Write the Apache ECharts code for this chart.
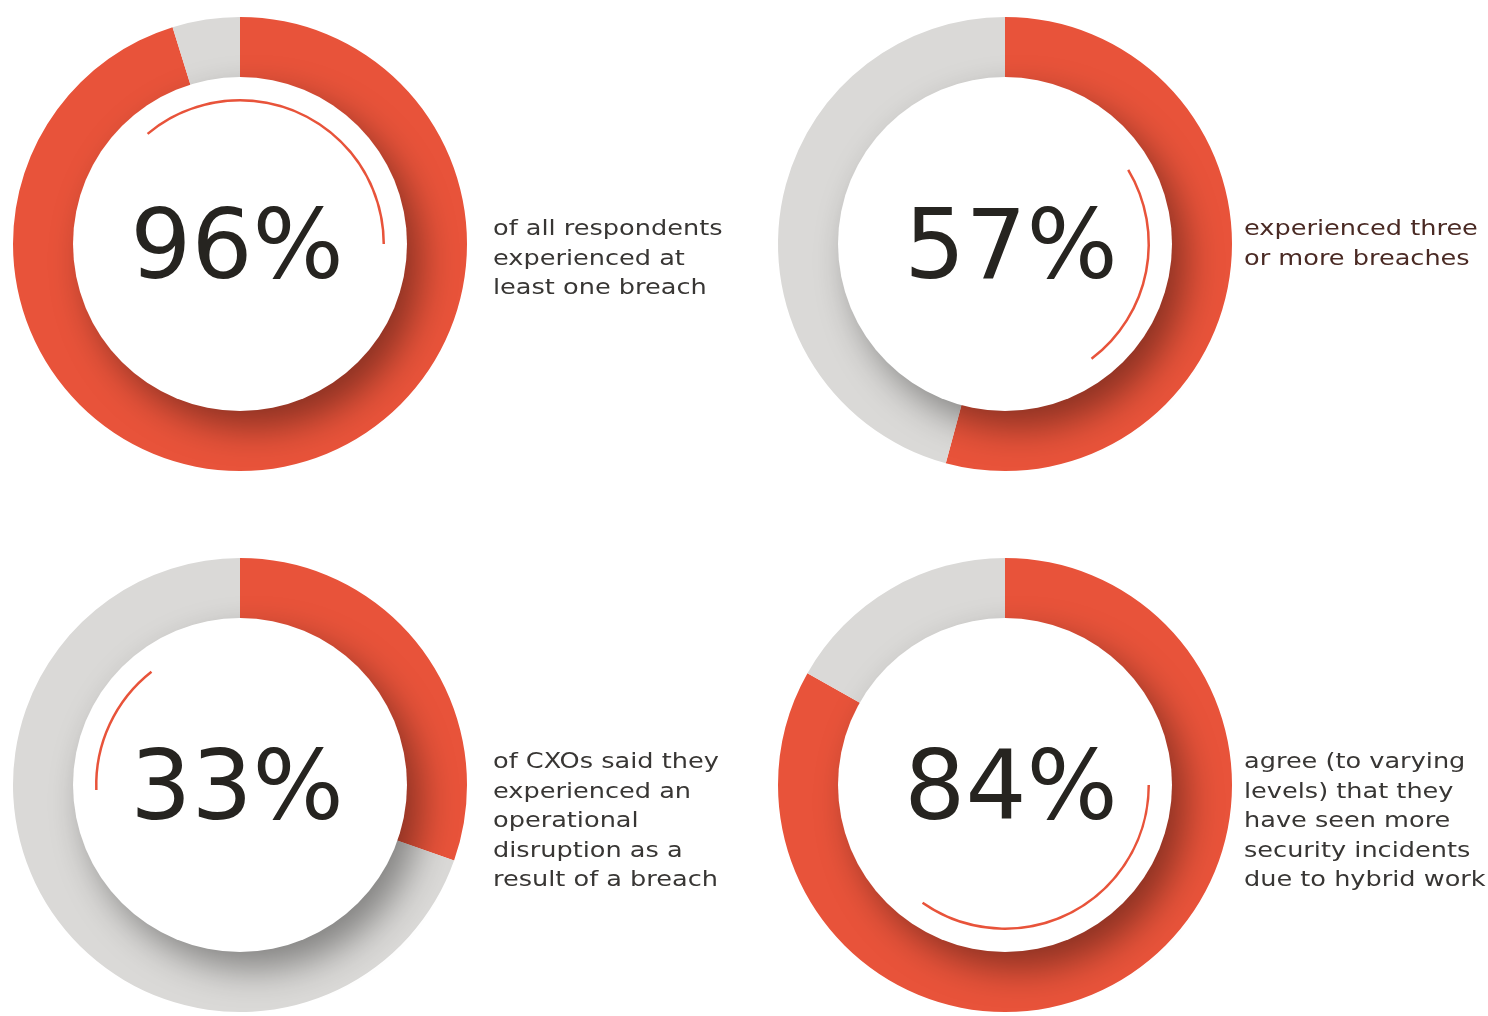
<!DOCTYPE html>
<html><head><meta charset="utf-8">
<script src="https://cdn.jsdelivr.net/npm/echarts@6/dist/echarts.min.js"></script>
<style>html,body{margin:0;padding:0;background:#fff}#c{width:1488px;height:1016px}</style>
</head><body><div id="c"></div>
<script>
// Data
const percentLabels = ['96%', '57%', '33%', '84%'];
// share of each ring drawn in red, as measured on the drawing
const ringShares = [95.2, 54.2, 30.4, 83.2];
const captions = [
  'of all respondents\nexperienced at\nleast one breach',
  'experienced three\nor more breaches',
  'of CXOs said they\nexperienced an\noperational\ndisruption as a\nresult of a breach',
  'agree (to varying\nlevels) that they\nhave seen more\nsecurity incidents\ndue to hybrid work'
];
// decorative inner arc: start angle (deg) and span (deg, clockwise)
const arcStart = [130, 31, 182, 0];
const arcSpan = [130, 84, 54, 125];

const RED = '#E8533A', GREY = '#DAD9D7';
const centers = [[240, 244], [1005, 244], [240, 785], [1005, 785]];
const numberDx = [-3, 6, -3, 6];
const captionPos = [[493, 215], [1244, 215], [493, 748], [1244, 748]];
const captionColor = ['#383634', '#4A2A24', '#383634', '#383634'];

const chart = echarts.init(document.getElementById('c'), null, {renderer: 'canvas'});
const series = [];
const graphic = [];
ringShares.forEach((v, i) => {
  const c = centers[i];
  series.push({
    type: 'pie', center: c, radius: [150, 227], startAngle: 90, clockwise: true,
    silent: true, label: {show: false}, labelLine: {show: false}, animation: false,
    data: [
      {value: v, itemStyle: {color: RED}},
      {value: 100 - v, itemStyle: {color: GREY}}
    ]
  });
  series.push({
    type: 'pie', center: c, radius: [0, 167], silent: true, animation: false,
    label: {show: false}, labelLine: {show: false},
    data: [{value: 1, itemStyle: {color: '#fff', shadowColor: 'rgba(0,0,0,0.4)', shadowBlur: 36, shadowOffsetX: 14, shadowOffsetY: 17}}]
  });
  series.push({
    type: 'pie', center: c, radius: [142.5, 145], startAngle: arcStart[i], clockwise: true,
    silent: true, animation: false, label: {show: false}, labelLine: {show: false},
    data: [
      {value: arcSpan[i], itemStyle: {color: RED}},
      {value: 360 - arcSpan[i], itemStyle: {color: 'rgba(0,0,0,0)'}}
    ]
  });
  graphic.push({
    type: 'text', x: c[0] + numberDx[i], y: c[1] + 9, z: 100,
    style: {text: percentLabels[i], font: '96px "DejaVu Sans"', fill: '#262420', textAlign: 'center', textVerticalAlign: 'middle'}
  });
  graphic.push({
    type: 'text', x: captionPos[i][0], y: captionPos[i][1], scaleX: 1.19, z: 100,
    style: {text: captions[i], font: '21.5px "DejaVu Sans"', lineHeight: 29.5, fill: captionColor[i], textVerticalAlign: 'top'}
  });
});

chart.setOption({animation: false, series: series, graphic: graphic});
</script></body></html>
